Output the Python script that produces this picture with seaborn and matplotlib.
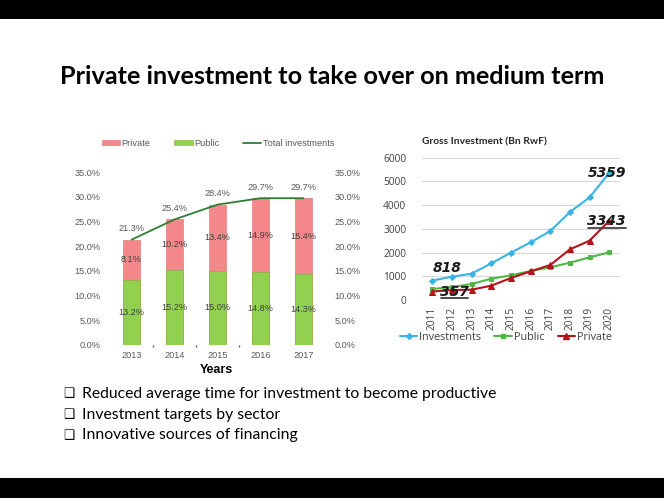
import matplotlib
matplotlib.use('Agg')
import matplotlib.pyplot as plt
import seaborn as sns
import numpy as np
import pandas as pd
from matplotlib.patches import Patch, Rectangle
from matplotlib.lines import Line2D

# ---------------- data ----------------
share_years = ['2013', '2014', '2015', '2016', '2017']
public_share = [13.2, 15.2, 15.0, 14.8, 14.3]
private_share = [8.1, 10.2, 13.4, 14.9, 15.4]
total_share = [21.3, 25.4, 28.4, 29.7, 29.7]
pct_ticks = [0, 5, 10, 15, 20, 25, 30, 35]

gross_years = [2011, 2012, 2013, 2014, 2015, 2016, 2017, 2018, 2019, 2020]
investments_bn = [818, 983, 1110, 1545, 1995, 2430, 2907, 3708, 4326, 5359]
public_bn = [463, 548, 674, 899, 1039, 1222, 1376, 1573, 1798, 2008]
private_bn = [357, 420, 435, 604, 927, 1208, 1475, 2135, 2500, 3343]
gross_ticks = [0, 1000, 2000, 3000, 4000, 5000, 6000]

slide_title = 'Private investment to take over on medium term'
right_title = 'Gross Investment (Bn RwF)'
bullets = ['Reduced average time for investment to become productive',
           'Investment targets by sector',
           'Innovative sources of financing']

# ---------------- style ----------------
sns.set_theme(style='white')
plt.rcParams['font.family'] = ['Liberation Sans', 'DejaVu Sans']

W, H = 664, 498
fig = plt.figure(figsize=(W / 100, H / 100), dpi=100)
fig.patch.set_facecolor('white')

def fx(px):
    return px / W

def fy(py):
    return 1 - py / H

# black bands
fig.patches.append(Rectangle((0, fy(19)), 1, 19 / H, transform=fig.transFigure,
                             facecolor='black', edgecolor='none', zorder=0))
fig.patches.append(Rectangle((0, 0), 1, 20 / H, transform=fig.transFigure,
                             facecolor='black', edgecolor='none', zorder=0))

# slide title
fig.text(fx(332), fy(77), slide_title, ha='center', va='center', fontsize=18.2,
         fontweight='bold', family=['Lato', 'DejaVu Sans'], color='black')

# ---------------- left chart ----------------
pink = '#f4878a'
green = '#92d050'
line_green = '#2e7d32'
gray = '#595959'

ax1 = fig.add_axes([fx(110), fy(345), fx(325) - fx(110), fy(172) - fy(345)])
df1 = pd.DataFrame({'year': share_years, 'total': total_share, 'public': public_share,
                    'private': private_share})
sns.barplot(data=df1, x='year', y='total', color=pink, width=0.4, saturation=1,
            edgecolor='#d97070', linewidth=0.4, ax=ax1)
sns.barplot(data=df1, x='year', y='public', color=green, width=0.4, saturation=1,
            edgecolor='#7ab540', linewidth=0.4, ax=ax1)
sns.lineplot(x=np.arange(len(share_years)), y=total_share, color=line_green, lw=1.3, ax=ax1)

ax1.set_xlim(-0.5, 4.5)
ax1.set_ylim(0, 35)
ax1.set_xlabel('')
ax1.set_ylabel('')
for s in ax1.spines.values():
    s.set_visible(False)
ax1.set_yticks(pct_ticks)
ax1.set_yticklabels([f'{v:.1f}%' for v in pct_ticks])
ax1.tick_params(axis='y', length=0, pad=7, labelsize=6.6, labelcolor=gray)
ax1.tick_params(axis='x', length=0, pad=4, labelsize=6.6, labelcolor=gray)
ax1.set_yticks([10, 25, 35], minor=True)
ax1.set_xticks([0.5, 1.5, 2.5], minor=True)
ax1.tick_params(axis='y', which='minor', length=3, width=0.8, color=gray, left=True,
                labelleft=False)
ax1.tick_params(axis='x', which='minor', length=1.5, width=1, color=gray, bottom=True,
                labelbottom=False)

for i in range(len(share_years)):
    ax1.text(i, total_share[i] + 2.2, f'{total_share[i]:.1f}%', ha='center', va='center',
             fontsize=6.6, color=gray)
    ax1.text(i, public_share[i] + private_share[i] / 2, f'{private_share[i]:.1f}%',
             ha='center', va='center', fontsize=6.6, color='#404040')
    ax1.text(i, public_share[i] / 2, f'{public_share[i]:.1f}%', ha='center', va='center',
             fontsize=6.6, color='#404040')

ax1r = ax1.twinx()
ax1r.set_ylim(0, 35)
for s in ax1r.spines.values():
    s.set_visible(False)
ax1r.set_yticks(pct_ticks)
ax1r.set_yticklabels([f'{v:.1f}%' for v in pct_ticks])
ax1r.tick_params(axis='y', length=0, pad=7, labelsize=6.6, labelcolor=gray)
ax1r.set_yticks([10, 25, 35], minor=True)
ax1r.tick_params(axis='y', which='minor', length=3, width=0.8, color=gray, right=True,
                 labelright=False)
ax1r.grid(False)

handles1 = [Patch(facecolor=pink, edgecolor='#d97070', linewidth=0.4),
            Patch(facecolor=green, edgecolor='#7ab540', linewidth=0.4),
            Line2D([], [], color=line_green, lw=1.3)]
leg1 = fig.legend(handles1, ['Private', 'Public', 'Total investments'], loc='center',
                  bbox_to_anchor=(fx(218), fy(143)), ncol=3, frameon=False, fontsize=6.6,
                  handlelength=2.0, handleheight=0.45, handletextpad=0.15,
                  columnspacing=2.6)
for t in leg1.get_texts():
    t.set_color(gray)

fig.text(fx(216), fy(370), 'Years', ha='center', va='center', fontsize=9,
         fontweight='bold', color='black')

# ---------------- right chart ----------------
c_inv = '#3ab3e6'
c_pub = '#4fb848'
c_pri = '#b5121b'
dark = '#404040'

ax2 = fig.add_axes([fx(421.5), fy(300), fx(620) - fx(421.5), fy(157.7) - fy(300)])
sns.lineplot(x=gross_years, y=investments_bn, color=c_inv, lw=1.5, marker='D',
             markersize=3, markeredgecolor=c_inv, ax=ax2)
sns.lineplot(x=gross_years, y=public_bn, color=c_pub, lw=1.5, marker='s',
             markersize=3.2, markeredgecolor=c_pub, ax=ax2)
sns.lineplot(x=gross_years, y=private_bn, color=c_pri, lw=1.5, marker='^',
             markersize=4.5, markeredgecolor=c_pri, ax=ax2)
ax2.set_xlim(2010.45, 2020.55)
ax2.set_ylim(0, 6000)
for s in ax2.spines.values():
    s.set_visible(False)
ax2.set_yticks(gross_ticks)
ax2.set_xticks(gross_years)
ax2.set_xticklabels([str(y) for y in gross_years], rotation=90,
                    family=['Open Sans', 'DejaVu Sans'])
ax2.set_yticklabels([str(v) for v in gross_ticks], family=['Open Sans', 'DejaVu Sans'])
ax2.tick_params(axis='both', length=0, labelsize=7.3, labelcolor=dark)
ax2.tick_params(axis='y', pad=11)
ax2.tick_params(axis='x', pad=5)
ax2.grid(axis='y', color='#d9d9d9', lw=0.8)
ax2.grid(axis='x', visible=False)
ax2.set_axisbelow(True)
ax2.set_xlabel('')
ax2.set_ylabel('')

fig.text(fx(484), fy(142), right_title, ha='center', va='center', fontsize=7.4,
         fontweight='bold', color='#262626', family=['Lato', 'DejaVu Sans'])

ann_style = dict(fontsize=10, fontweight='bold', fontstyle='italic', color='#1a1a1a',
                 family='DejaVu Sans', ha='center', va='center')
ax2.text(2011.73, 1360, f'{investments_bn[0]}', **ann_style)
ax2.text(2019.87, 5354, f'{investments_bn[-1]}', **ann_style)
ax2.text(2019.87, 3330, f'{private_bn[-1]}', **ann_style)
ax2.text(2012.15, 330, f'{private_bn[0]}', **ann_style)
ax2.plot([2018.92, 2020.84], [3048, 3048], color='#404040', lw=1.3, clip_on=False)
ax2.plot([2011.44, 2012.81], [72, 72], color='#404040', lw=1.3, clip_on=False)

handles2 = [Line2D([], [], color=c_inv, lw=1.5, marker='D', markersize=3),
            Line2D([], [], color=c_pub, lw=1.5, marker='s', markersize=3.2),
            Line2D([], [], color=c_pri, lw=1.5, marker='^', markersize=4.5)]
leg2 = fig.legend(handles2, ['Investments', 'Public', 'Private'], loc='center',
                  bbox_to_anchor=(fx(506), fy(337)), ncol=3, frameon=False,
                  handlelength=1.6, handletextpad=0.2, columnspacing=1.2,
                  prop={'family': ['Open Sans', 'DejaVu Sans'], 'size': 7.8})
for t in leg2.get_texts():
    t.set_color(dark)

# ---------------- bullets ----------------
for i, b in enumerate(bullets):
    yy = fy(394 + i * 20.5)
    fig.text(fx(63), yy, '\u2751', ha='left', va='center', fontsize=9,
             family='DejaVu Sans', color='black')
    fig.text(fx(82), yy, b, ha='left', va='center', fontsize=11.3,
             family=['Lato', 'DejaVu Sans'], color='black')

fig.savefig('out.png', dpi=100)
